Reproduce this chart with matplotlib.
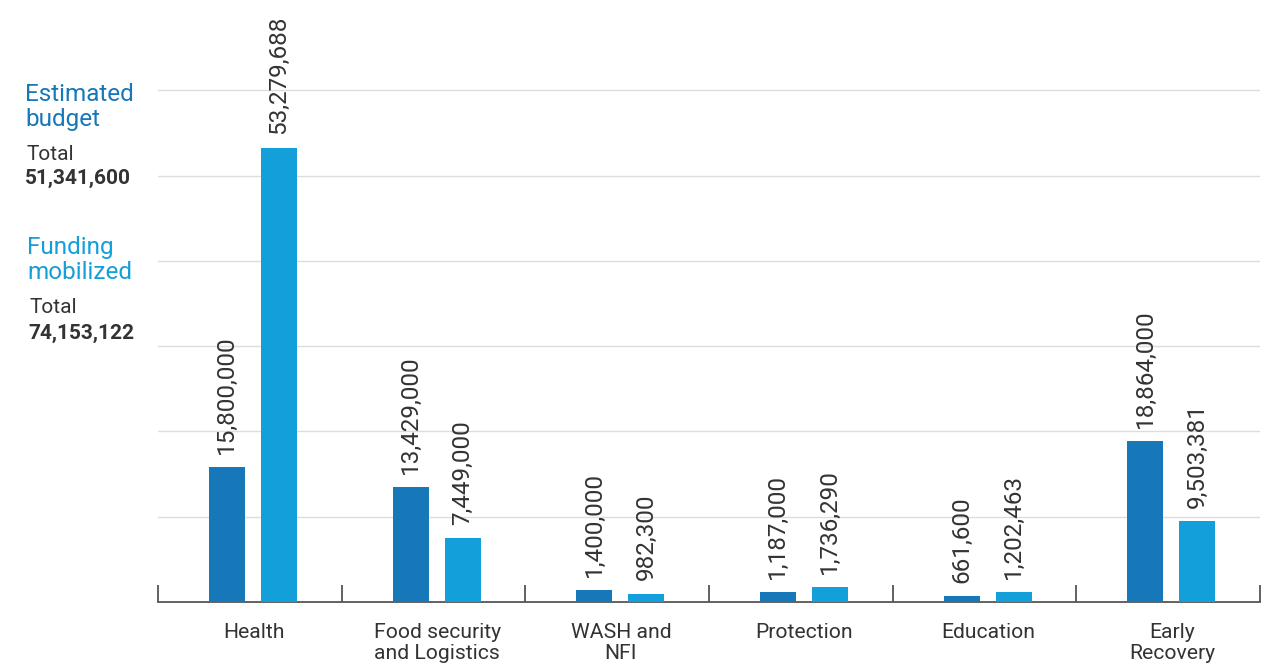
import matplotlib
matplotlib.use("Agg")
import matplotlib.pyplot as plt
import numpy as np

categories = ["Health", "Food security\nand Logistics", "WASH and\nNFI", "Protection", "Education", "Early\nRecovery"]
estimated_budget = [15800000, 13429000, 1400000, 1187000, 661600, 18864000]
funding_mobilized = [53279688, 7449000, 982300, 1736290, 1202463, 9503381]
total_budget = "51,341,600"
total_funding = "74,153,122"

dark = "#1677b9"
light = "#139fda"
txt = "#333333"

plt.rcParams['font.family'] = ['Roboto', 'DejaVu Sans']

W, H = 1281, 667
fig = plt.figure(figsize=(W / 100, H / 100), dpi=100)
ax = fig.add_axes([158 / W, 1 - 602 / H, (1260 - 158) / W, (602 - 5) / H])

x = np.arange(len(categories))
bw = 0.196
b1 = ax.bar(x - 0.125, estimated_budget, width=bw, color=dark, zorder=3)
b2 = ax.bar(x + 0.158, funding_mobilized, width=bw, color=light, zorder=3)

for bars, vals in ((b1, estimated_budget), (b2, funding_mobilized)):
    for r, v in zip(bars, vals):
        ax.annotate(f"{v:,}", (r.get_x() + r.get_width() / 2, v),
                    xytext=(0, 9.5), textcoords="offset points",
                    rotation=90, ha="center", va="bottom",
                    fontsize=17.5, color=txt, zorder=4)

ax.set_xlim(-0.5, len(categories) - 0.5)
ax.set_ylim(0, 70e6)
ax.set_yticks(np.arange(10e6, 70e6, 10e6))
ax.yaxis.grid(True, color="#dddddd", linewidth=1.0, zorder=0)
ax.tick_params(axis="y", length=0, labelleft=False)

for s in ("top", "right", "left"):
    ax.spines[s].set_visible(False)
ax.spines["bottom"].set_color("#555555")
ax.spines["bottom"].set_linewidth(1.3)

ax.set_xticks(np.arange(-0.5, len(categories), 1.0))
ax.set_xticklabels([])
ax.tick_params(axis="x", direction="in", length=12, width=1.3, color="#555555")
ax.set_xticks(x + 0.02, minor=True)
ax.set_xticklabels(categories, minor=True, fontsize=15.2, color=txt, linespacing=1.12)
ax.tick_params(axis="x", which="minor", length=0, pad=15)

fig.text(25 / W, 1 - 126 / H, "Estimated\nbudget", color=dark, fontsize=17.5,
         ha="left", va="baseline", linespacing=1.1)
fig.text(26 / W, 1 - 160 / H, "Total", color=txt, fontsize=15, ha="left", va="baseline")
fig.text(25 / W, 1 - 184 / H, total_budget, color=txt, fontsize=15, fontweight="bold",
         ha="left", va="baseline")
fig.text(27 / W, 1 - 279 / H, "Funding\nmobilized", color=light, fontsize=17.5,
         ha="left", va="baseline", linespacing=1.1)
fig.text(29 / W, 1 - 313 / H, "Total", color=txt, fontsize=15, ha="left", va="baseline")
fig.text(28 / W, 1 - 339 / H, total_funding, color=txt, fontsize=15, fontweight="bold",
         ha="left", va="baseline")

fig.savefig("out.png", dpi=100, facecolor="white")
